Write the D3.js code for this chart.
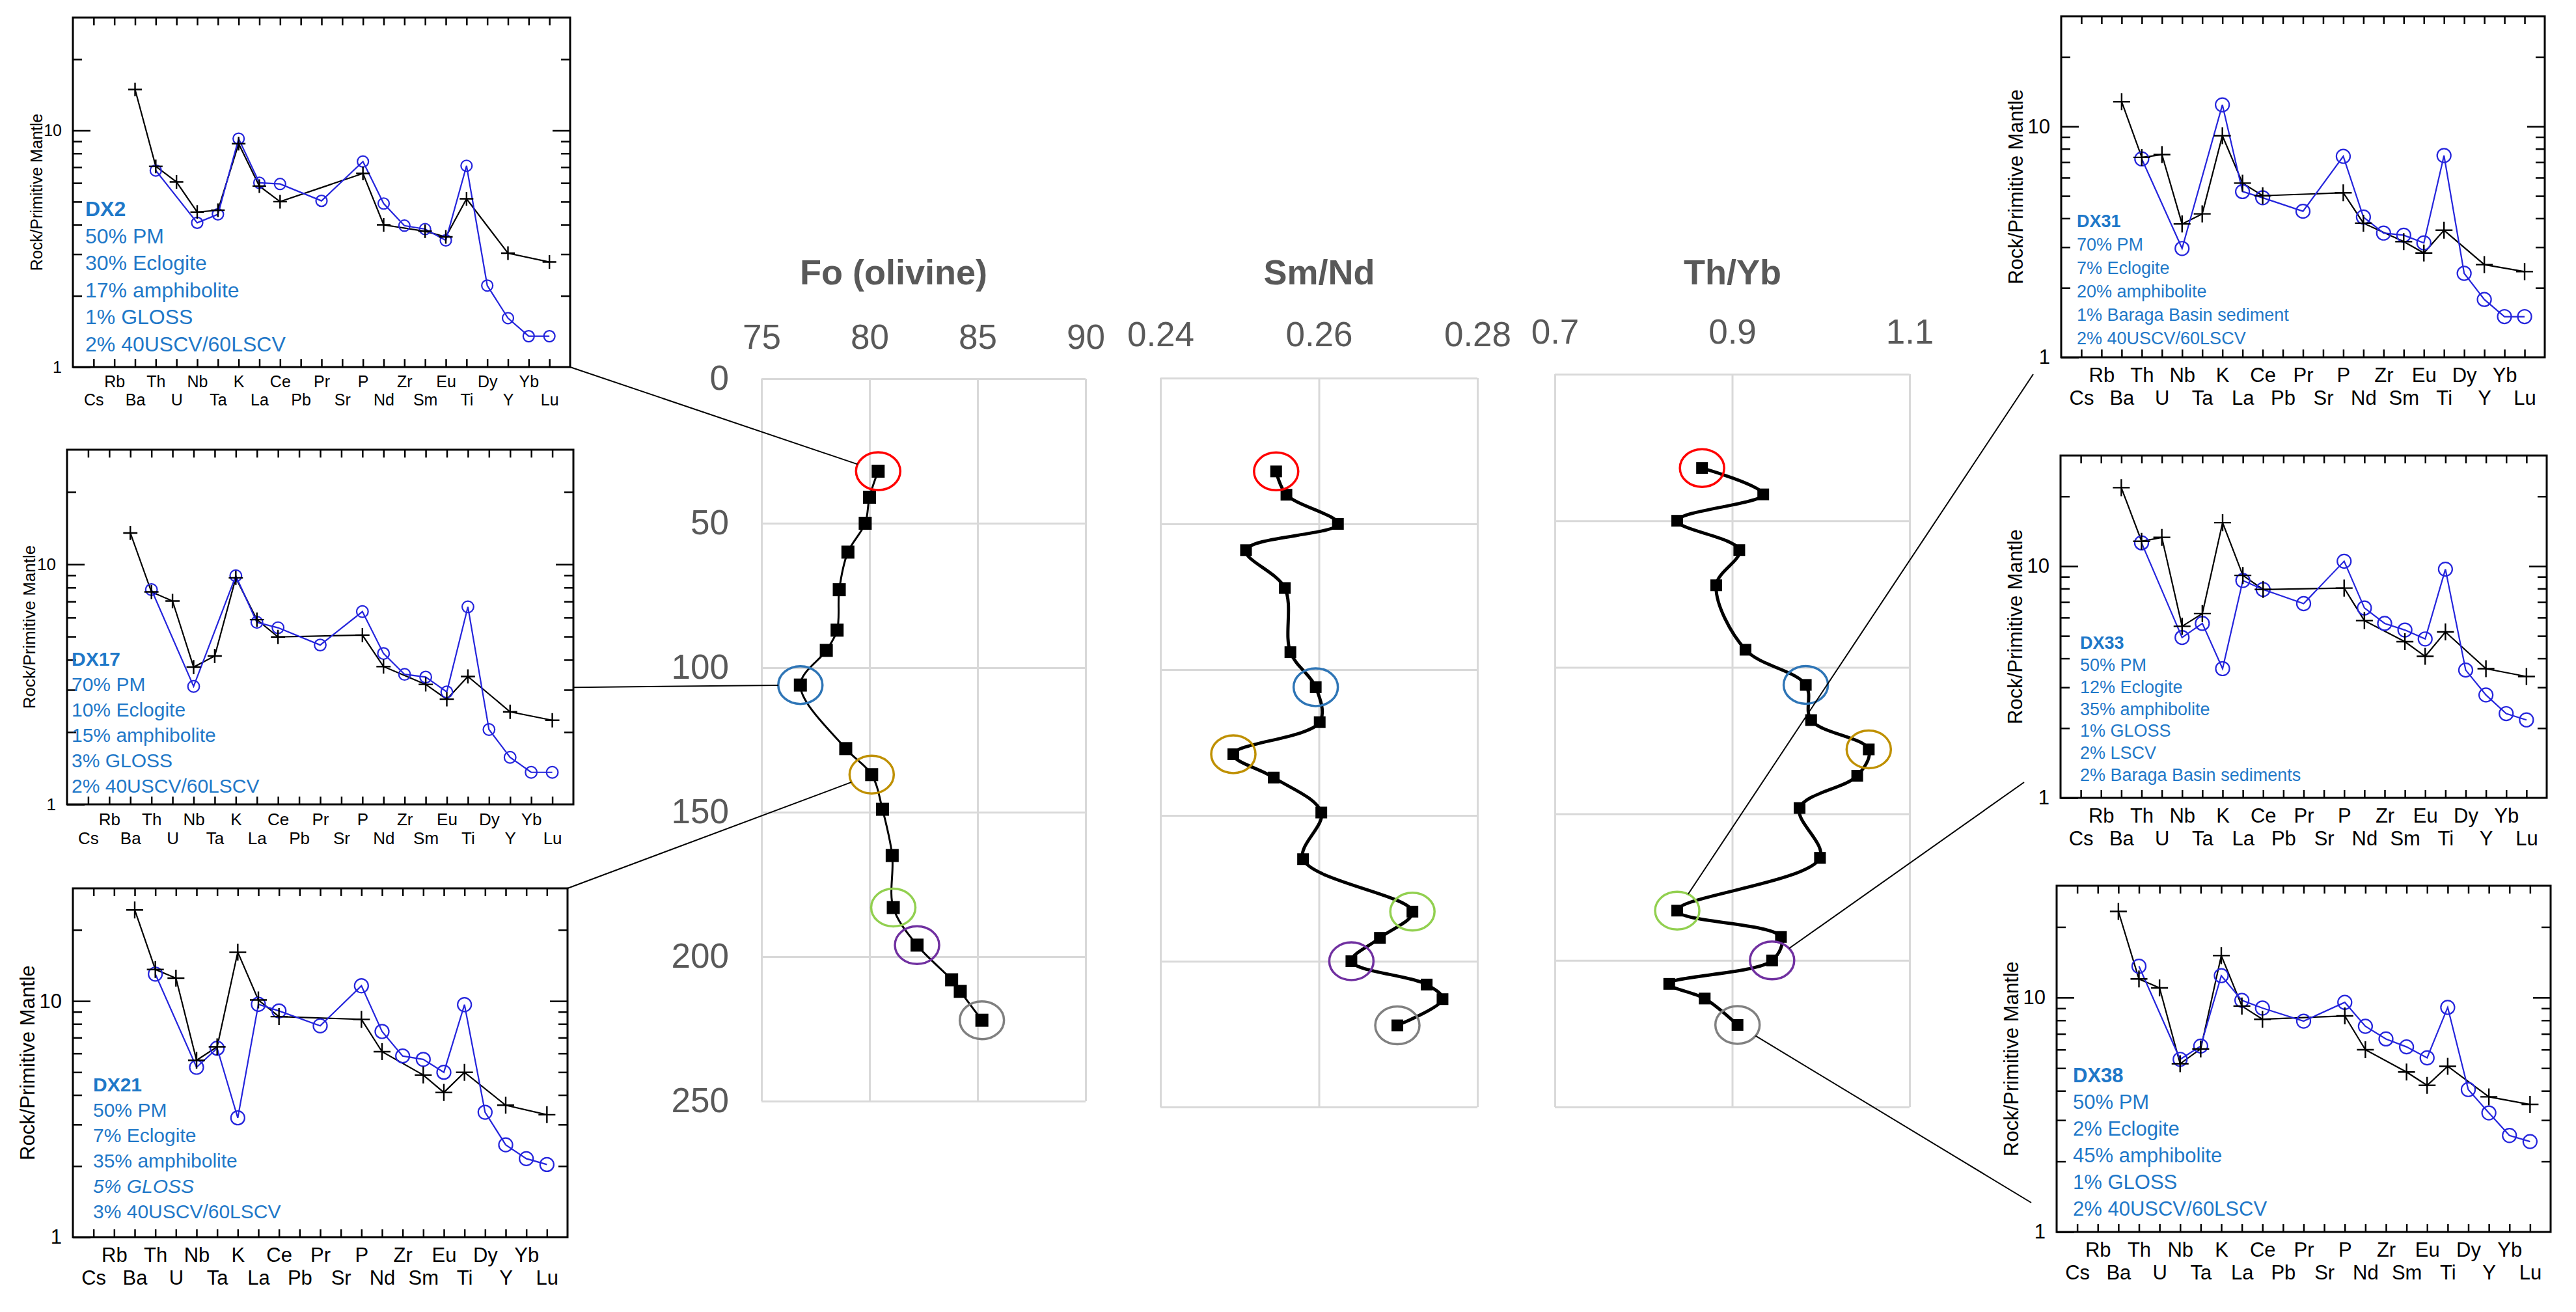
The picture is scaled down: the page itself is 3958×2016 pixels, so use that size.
<!DOCTYPE html>
<html>
<head>
<meta charset="utf-8">
<script src="https://cdn.jsdelivr.net/npm/d3@7"></script>
<style>
  body { margin: 0; background: #fff; }
  text { font-family: "Liberation Sans", Arial, sans-serif; }
</style>
</head>
<body>
<svg id="chart" width="3958" height="2016"></svg>
<script>
// ---- depth profiles (centre) ----
var depthTicks = [0, 50, 100, 150, 200, 250];

var foDepth = [32, 41, 50, 60, 73, 87, 94, 106, 128, 137, 149, 165, 183, 196, 208, 212, 222];
var foValue = [80.4, 80.0, 79.8, 79.0, 78.6, 78.5, 78.0, 76.8, 78.9, 80.1, 80.6, 81.05, 81.1, 82.2, 83.8, 84.2, 85.2];
var foTicks = [75, 80, 85, 90];

var smndDepth = [32, 40, 50, 59, 72, 94, 106, 118, 129, 137, 149, 165, 183, 192, 200, 208, 213, 222];
var smndValue = [0.2546, 0.2559, 0.2624, 0.2508, 0.2557, 0.2564, 0.2596, 0.2601, 0.2492, 0.2543,
                 0.2603, 0.2580, 0.2718, 0.2677, 0.2641, 0.2736, 0.2756, 0.2699];
var smndTicks = [0.24, 0.26, 0.28];

var thybDepth = [32, 41, 50, 60, 72, 94, 106, 118, 128, 137, 148, 165, 183, 192, 200, 208, 213, 222];
var thybValue = [0.866, 0.935, 0.838, 0.908, 0.882, 0.915, 0.983, 0.989, 1.054, 1.041,
                 0.976, 0.999, 0.838, 0.955, 0.945, 0.829, 0.869, 0.906];
var thybTicks = [0.7, 0.9, 1.1];

// circled samples (index into each profile), same order as ringColors
var ringColors = ["#ff0000", "#2e75b6", "#bf9000", "#92d050", "#7030a0", "#808080"];
var foRings = [0, 7, 9, 12, 13, 16];
var smndRings = [0, 6, 8, 12, 14, 17];
var thybRings = [0, 6, 8, 12, 14, 17];

// ---- spider diagrams ----
var elements = ["Cs","Rb","Ba","Th","U","Nb","Ta","K","La","Ce","Pb","Pr","Sr","P","Nd","Zr","Sm","Eu","Ti","Dy","Y","Yb","Lu"];

var sampleDX2  = [null,null,14.9,7.05,6.06,4.52,4.60,8.79,5.82,5.00,null,null,null,6.58,3.99,null,3.75,3.55,5.14,null,3.03,null,2.78];
var modelDX2   = [null,null,null,6.77,null,4.07,4.42,9.23,6.01,5.94,null,5.04,null,7.39,4.91,3.96,3.83,3.43,7.09,2.21,1.61,1.35,1.35];
var sampleDX17 = [null,null,13.5,7.67,7.03,3.73,4.15,8.78,5.88,4.98,null,null,null,5.07,3.75,null,3.16,2.74,3.41,null,2.43,null,2.24];
var modelDX17  = [null,null,null,7.84,null,3.10,null,8.95,5.73,5.44,null,4.61,null,6.35,4.25,3.48,3.39,2.94,6.65,2.05,1.57,1.36,1.36];
var sampleDX21 = [null,null,24.3,13.6,12.5,5.61,6.40,16.1,10.1,8.59,null,null,null,8.36,6.10,null,4.86,4.10,4.99,null,3.62,null,3.30];
var modelDX21  = [null,null,null,13.0,null,5.24,6.31,3.20,9.68,9.08,null,7.85,null,11.6,7.43,5.85,5.66,4.99,9.65,3.38,2.46,2.15,2.03];
var sampleDX31 = [null,null,12.8,7.34,7.55,3.78,4.18,9.12,5.68,5.01,null,null,null,5.16,3.81,null,3.17,2.83,3.55,null,2.52,null,2.35];
var modelDX31  = [null,null,null,7.23,null,2.96,null,12.4,5.22,4.91,null,4.29,null,7.42,4.05,3.45,3.38,3.13,7.48,2.31,1.78,1.50,1.50];
var sampleDX33 = [null,null,21.8,12.8,13.3,5.50,6.24,15.4,9.12,7.93,null,null,null,8.04,5.82,null,4.72,4.08,5.20,null,3.61,null,3.34];
var modelDX33  = [null,null,null,12.6,null,4.92,5.66,3.61,8.67,7.93,null,6.89,null,10.5,6.60,5.66,5.30,4.85,9.70,3.56,2.78,2.31,2.17];
var sampleDX38 = [null,null,23.3,12.0,11.0,5.22,6.04,15.1,9.20,8.08,null,null,null,8.35,5.99,null,4.81,4.22,5.09,null,3.77,null,3.50];
var modelDX38  = [null,null,null,13.6,null,5.45,6.21,12.4,9.73,9.02,null,7.93,null,9.54,7.54,6.66,6.16,5.53,9.08,4.05,3.22,2.58,2.43];

var legendDX2  = ["DX2", "50% PM", "30% Eclogite", "17% amphibolite", "1% GLOSS", "2% 40USCV/60LSCV"];
var legendDX17 = ["DX17", "70% PM", "10% Eclogite", "15% amphibolite", "3% GLOSS", "2% 40USCV/60LSCV"];
var legendDX21 = ["DX21", "50% PM", "7% Eclogite", "35% amphibolite", "5% GLOSS", "3% 40USCV/60LSCV"];
var legendDX31 = ["DX31", "70% PM", "7% Eclogite", "20% amphibolite", "1% Baraga Basin sediment", "2% 40USCV/60LSCV"];
var legendDX33 = ["DX33", "50% PM", "12% Eclogite", "35% amphibolite", "1% GLOSS", "2% LSCV", "2% Baraga Basin sediments"];
var legendDX38 = ["DX38", "50% PM", "2% Eclogite", "45% amphibolite", "1% GLOSS", "2% 40USCV/60LSCV"];

var svg = d3.select("#chart");
svg.append("rect").attr("width", 3958).attr("height", 2016).attr("fill", "#fff");

var grey = "#595959", gridCol = "#d9d9d9";
var ringPos = {};

// ---------- depth profile panels ----------
function depthPanel(p) {
  var x = d3.scaleLinear().domain(p.domain).range([p.x0, p.x1]);
  var y = d3.scaleLinear().domain([0, 250]).range([p.y0, p.y1]);
  var g = svg.append("g");

  // grid + border
  g.append("g")
    .attr("transform", "translate(0," + p.y0 + ")")
    .call(d3.axisTop(x).tickValues(p.ticks).tickSize(-(p.y1 - p.y0)).tickFormat(""))
    .call(s => s.select(".domain").remove())
    .selectAll("line").attr("stroke", gridCol).attr("stroke-width", 3);
  g.append("g")
    .attr("transform", "translate(" + p.x0 + ",0)")
    .call(d3.axisLeft(y).tickValues(depthTicks).tickSize(-(p.x1 - p.x0)).tickFormat(""))
    .call(s => s.select(".domain").remove())
    .selectAll("line").attr("stroke", gridCol).attr("stroke-width", 3);

  // tick labels on top
  g.append("g")
    .attr("transform", "translate(0," + p.y0 + ")")
    .call(d3.axisTop(x).tickValues(p.ticks).tickSize(0).tickFormat(p.fmt))
    .call(s => s.select(".domain").remove())
    .selectAll("text")
      .attr("y", -p.labelGap).attr("dy", "0.35em")
      .attr("fill", grey).style("font-size", "53px");

  if (p.depthLabels) {
    g.append("g")
      .attr("transform", "translate(" + p.x0 + ",0)")
      .call(d3.axisLeft(y).tickValues(depthTicks).tickSize(0).tickPadding(50))
      .call(s => s.select(".domain").remove())
      .selectAll("text").attr("fill", grey).style("font-size", "53px");
  }

  g.append("text")
    .attr("x", p.titleX).attr("y", 418).attr("dy", "0.35em")
    .attr("text-anchor", "middle").attr("fill", grey)
    .style("font-size", "54px").style("font-weight", "bold")
    .text(p.title);

  var pts = p.depth.map((d, i) => [d, p.value[i]]);
  g.append("path")
    .datum(pts)
    .attr("fill", "none").attr("stroke", "#000").attr("stroke-width", p.lw)
    .attr("d", d3.line().x(d => x(d[1])).y(d => y(d[0])).curve(d3.curveCatmullRom));

  g.selectAll(".sq").data(pts).enter().append("rect")
    .attr("x", d => x(d[1]) - p.sq / 2).attr("y", d => y(d[0]) - p.sq / 2)
    .attr("width", p.sq).attr("height", p.sq).attr("fill", "#000");

  ringPos[p.id] = [];
  p.rings.forEach(function (idx, k) {
    var cx = x(p.value[idx]), cy = y(p.depth[idx]);
    ringPos[p.id].push([cx, cy]);
    g.append("ellipse")
      .attr("cx", cx).attr("cy", cy).attr("rx", 34).attr("ry", 29)
      .attr("fill", "none").attr("stroke", ringColors[k]).attr("stroke-width", 3.5);
  });
}

depthPanel({id: "fo", title: "Fo (olivine)", titleX: 1373, domain: [75, 90], ticks: foTicks, fmt: d3.format("d"),
  x0: 1170, x1: 1668, y0: 582, y1: 1692, labelGap: 65, depthLabels: true,
  depth: foDepth, value: foValue, rings: foRings, lw: 3, sq: 20});
depthPanel({id: "smnd", title: "Sm/Nd", titleX: 2027, domain: [0.24, 0.28], ticks: smndTicks, fmt: d3.format(".2f"),
  x0: 1783, x1: 2270, y0: 581, y1: 1701, labelGap: 68, depthLabels: false,
  depth: smndDepth, value: smndValue, rings: smndRings, lw: 5, sq: 18});
depthPanel({id: "thyb", title: "Th/Yb", titleX: 2662, domain: [0.7, 1.1], ticks: thybTicks, fmt: d3.format(".1f"),
  x0: 2389, x1: 2934, y0: 575, y1: 1701, labelGap: 66, depthLabels: false,
  depth: thybDepth, value: thybValue, rings: thybRings, lw: 5, sq: 18});

// ---------- spider diagrams ----------
var spiderPanels = [
  {id: "DX2",  L: 112,  R: 876,  T: 27,   B: 564,  f: 25, legF: 32, legX: 19, legY: 294, legDy: 41.5, sample: sampleDX2,  model: modelDX2,  legend: legendDX2,  italic: -1},
  {id: "DX17", L: 103,  R: 881,  T: 691,  B: 1236, f: 26, legF: 30, legX: 7,  legY: 321, legDy: 39,   sample: sampleDX17, model: modelDX17, legend: legendDX17, italic: -1},
  {id: "DX21", L: 112,  R: 872,  T: 1365, B: 1901, f: 31, legF: 30, legX: 31, legY: 301, legDy: 39,   sample: sampleDX21, model: modelDX21, legend: legendDX21, italic: 4},
  {id: "DX31", L: 3167, R: 3910, T: 25,   B: 549,  f: 31, legF: 27, legX: 24, legY: 315, legDy: 36,   sample: sampleDX31, model: modelDX31, legend: legendDX31, italic: -1},
  {id: "DX33", L: 3166, R: 3913, T: 700,  B: 1226, f: 31, legF: 27, legX: 30, legY: 288, legDy: 33.7, sample: sampleDX33, model: modelDX33, legend: legendDX33, italic: -1},
  {id: "DX38", L: 3160, R: 3919, T: 1361, B: 1893, f: 31, legF: 31, legX: 25, legY: 291, legDy: 41,   sample: sampleDX38, model: modelDX38, legend: legendDX38, italic: -1}
];

var minorTicks = [2, 3, 4, 5, 6, 7, 8, 9, 20];

function spider(p) {
  var x = d3.scaleLinear().domain([-1, 23]).range([p.L, p.R]);
  var y = d3.scaleLog().domain([1, 30]).range([p.B, p.T]);
  var g = svg.append("g");
  var idx = d3.range(elements.length);

  function clean(s) {
    s.select(".domain").remove();
    s.selectAll("line").attr("stroke", "#000").attr("stroke-width", 2.5);
  }

  g.append("g").attr("transform", "translate(0," + p.T + ")")
    .call(d3.axisTop(x).tickValues(idx).tickSize(-12).tickFormat("")).call(clean);
  var bx = g.append("g").attr("transform", "translate(0," + p.B + ")")
    .call(d3.axisBottom(x).tickValues(idx).tickSize(-12).tickFormat(i => elements[i])).call(clean);
  bx.selectAll("text")
    .attr("y", i => i % 2 ? 0.87 * p.f : 2.0 * p.f).attr("dy", "0.35em")
    .attr("fill", "#000").style("font-size", p.f + "px");

  g.append("g").attr("transform", "translate(" + p.L + ",0)")
    .call(d3.axisLeft(y).tickValues(minorTicks).tickSize(-14).tickFormat("")).call(clean);
  g.append("g").attr("transform", "translate(" + p.L + ",0)")
    .call(d3.axisLeft(y).tickValues([1, 10]).tickSize(-27).tickPadding(17).tickFormat(d3.format("d"))).call(clean)
    .selectAll("text").attr("fill", "#000").style("font-size", p.f + "px");
  g.append("g").attr("transform", "translate(" + p.R + ",0)")
    .call(d3.axisRight(y).tickValues(minorTicks).tickSize(-14).tickFormat("")).call(clean);
  g.append("g").attr("transform", "translate(" + p.R + ",0)")
    .call(d3.axisRight(y).tickValues([10]).tickSize(-27).tickFormat("")).call(clean);

  g.append("rect")
    .attr("x", p.L).attr("y", p.T).attr("width", p.R - p.L).attr("height", p.B - p.T)
    .attr("fill", "none").attr("stroke", "#000").attr("stroke-width", 3);

  g.append("text")
    .attr("transform", "translate(" + (p.L - 2.25 * p.f) + "," + (p.T + p.B) / 2 + ") rotate(-90)")
    .attr("text-anchor", "middle").attr("dy", "0.35em")
    .style("font-size", p.f + "px").text("Rock/Primitive Mantle");

  var line = d3.line().x(d => x(d[0])).y(d => y(d[1]));
  var samplePts = idx.filter(i => p.sample[i] != null).map(i => [i, p.sample[i]]);
  var modelPts = idx.filter(i => p.model[i] != null).map(i => [i, p.model[i]]);

  g.append("path").datum(samplePts).attr("d", line)
    .attr("fill", "none").attr("stroke", "#000").attr("stroke-width", 2.2);
  g.append("path").datum(modelPts).attr("d", line)
    .attr("fill", "none").attr("stroke", "#2424dc").attr("stroke-width", 2.2);

  var r = 0.34 * p.f;
  g.selectAll(".ring").data(modelPts).enter().append("circle")
    .attr("cx", d => x(d[0])).attr("cy", d => y(d[1])).attr("r", r)
    .attr("fill", "none").attr("stroke", "#2424dc").attr("stroke-width", 2.2);

  var h = 0.42 * p.f;
  g.selectAll(".plus").data(samplePts).enter().append("path")
    .attr("d", d => "M" + (x(d[0]) - h) + "," + y(d[1]) + "h" + 2 * h +
                    "M" + x(d[0]) + "," + (y(d[1]) - h) + "v" + 2 * h)
    .attr("stroke", "#000").attr("stroke-width", 2.4);

  g.selectAll(".leg").data(p.legend).enter().append("text")
    .attr("x", p.L + p.legX).attr("y", (d, i) => p.T + p.legY + i * p.legDy).attr("dy", "0.35em")
    .attr("fill", "#1f78c8").style("font-size", p.legF + "px")
    .style("font-weight", (d, i) => i === 0 ? "bold" : "normal")
    .style("font-style", (d, i) => i === p.italic ? "italic" : "normal")
    .text(d => d);
}

spiderPanels.forEach(spider);

// ---------- connector lines from each spider diagram to its circled sample ----------
var links = [
  {panel: 0, ax: 1, ay: 1,    ox: 0,   oy: 0,   plot: "fo",   ring: 0},
  {panel: 1, ax: 1, ay: 0.67, ox: 0,   oy: 0,   plot: "fo",   ring: 1},
  {panel: 2, ax: 1, ay: 0,    ox: 0,   oy: 0,   plot: "fo",   ring: 2},
  {panel: 3, ax: 0, ay: 1,    ox: -43, oy: 26,  plot: "thyb", ring: 3},
  {panel: 4, ax: 0, ay: 1,    ox: -56, oy: -24, plot: "thyb", ring: 4},
  {panel: 5, ax: 0, ay: 1,    ox: -39, oy: -45, plot: "thyb", ring: 5}
];

links.forEach(function (l) {
  var p = spiderPanels[l.panel];
  var sx = p.L + l.ax * (p.R - p.L) + l.ox, sy = p.T + l.ay * (p.B - p.T) + l.oy;
  var c = ringPos[l.plot][l.ring];
  var dx = sx - c[0], dy = sy - c[1];
  var t = 1 / Math.sqrt((dx / 34) * (dx / 34) + (dy / 29) * (dy / 29));
  svg.append("line")
    .attr("x1", sx).attr("y1", sy)
    .attr("x2", c[0] + t * dx).attr("y2", c[1] + t * dy)
    .attr("stroke", "#000").attr("stroke-width", 2);
});
</script>
</body>
</html>
